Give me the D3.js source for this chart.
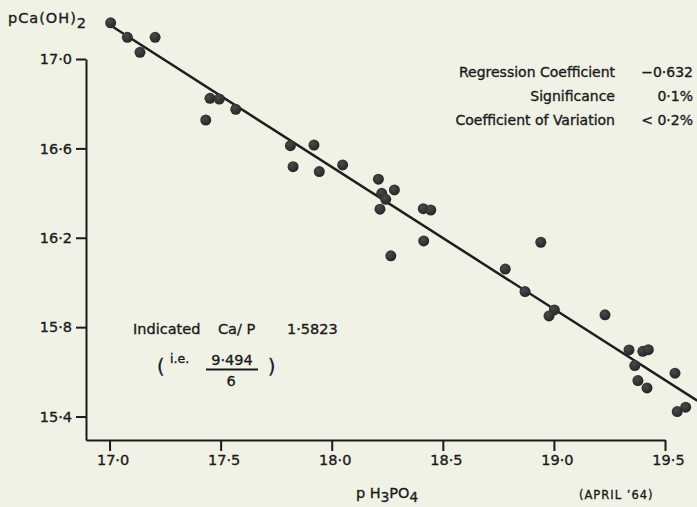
<!DOCTYPE html>
<html>
<head>
<meta charset="utf-8">
<script src="https://cdn.jsdelivr.net/npm/d3@7"></script>
<style>
  html, body { margin: 0; padding: 0; background: #f1f2e6; }
  svg { display: block; }
  text { font-family: "DejaVu Sans", sans-serif; fill: #1b1b1b; stroke: #1b1b1b; stroke-width: 0.35px; }
</style>
</head>
<body>
<svg id="chart" width="697" height="507"></svg>
<script>
// ---- data ----
const pH3PO4 = [17.005, 17.080, 17.205, 17.137, 17.452, 17.494, 17.568, 17.433,
  17.814, 17.920, 17.826, 17.944, 18.049, 18.210, 18.225, 18.282, 18.243, 18.217,
  18.412, 18.446, 18.414, 18.266, 18.941, 18.781, 18.870, 19.002, 18.978, 19.230,
  19.338, 19.400, 19.425, 19.364, 19.545, 19.378, 19.419, 19.555, 19.593];
const pCaOH2 = [17.162, 17.097, 17.097, 17.030, 16.824, 16.821, 16.775, 16.727,
  16.612, 16.615, 16.518, 16.496, 16.526, 16.462, 16.399, 16.414, 16.372, 16.328,
  16.330, 16.324, 16.186, 16.119, 16.180, 16.060, 15.959, 15.877, 15.850, 15.855,
  15.698, 15.692, 15.699, 15.628, 15.594, 15.561, 15.528, 15.422, 15.442];
const fitX = [17.016, 19.645];
const fitY = [17.143, 15.471];
const xTicks = [17.0, 17.5, 18.0, 18.5, 19.0, 19.5];
const yTicks = [15.4, 15.8, 16.2, 16.6, 17.0];
const statLabels = ["Regression Coefficient", "Significance", "Coefficient of Variation"];
const statValues = ["\u22120\u00B7632", "0\u00B71%", "< 0\u00B72%"];

// ---- scales ----
const svg = d3.select("#chart");
svg.append("rect").attr("width", 697).attr("height", 507).attr("fill", "#f1f2e6");

const x = d3.scaleLinear().domain([16.894, 19.5]).range([86, 665]);
const y = d3.scaleLinear().domain([15.295, 17.0]).range([440, 59]);
const fmt = v => d3.format(".1f")(v).replace(".", "\u00B7");
const FONT = "'DejaVu Sans', sans-serif";

// ---- axes ----
const xAxis = svg.append("g").attr("transform", "translate(0,440)")
  .call(d3.axisBottom(x).tickValues(xTicks).tickFormat(fmt).tickSize(11).tickSizeOuter(0).tickPadding(4));
const yAxis = svg.append("g").attr("transform", "translate(86,0)")
  .call(d3.axisLeft(y).tickValues(yTicks).tickFormat(fmt).tickSize(10).tickSizeOuter(0).tickPadding(4));
[xAxis, yAxis].forEach(g => {
  g.selectAll("path, line").attr("stroke", "#1b1b1b").attr("stroke-width", 2);
  g.selectAll("text").attr("font-size", 14.5).attr("fill", "#1b1b1b")
    .style("font-family", FONT);
});
xAxis.selectAll("text").attr("dx", 3);

// ---- regression line ----
svg.append("line")
  .attr("x1", x(fitX[0])).attr("y1", y(fitY[0]))
  .attr("x2", x(fitX[1])).attr("y2", y(fitY[1]))
  .attr("stroke", "#1e1e1e").attr("stroke-width", 2.5);

// ---- points ----
const defs = svg.append("defs");
const grad = defs.append("radialGradient").attr("id", "dot").attr("cx", "40%").attr("cy", "35%").attr("r", "65%");
grad.append("stop").attr("offset", "0%").attr("stop-color", "#4a4a4a");
grad.append("stop").attr("offset", "100%").attr("stop-color", "#262626");
svg.append("g").selectAll("circle").data(pH3PO4).join("circle")
  .attr("cx", d => x(d))
  .attr("cy", (d, i) => y(pCaOH2[i]))
  .attr("r", 5.5)
  .attr("fill", "url(#dot)");

// ---- axis titles ----
const yt = svg.append("text").attr("x", 8).attr("y", 23).attr("font-size", 14.5).attr("letter-spacing", 1);
yt.append("tspan").text("pCa(OH)");
yt.append("tspan").attr("dy", 5).text("2");

const xt = svg.append("text").attr("x", 356).attr("y", 498).attr("font-size", 14.5);
xt.append("tspan").text("p H");
xt.append("tspan").attr("dy", 4).attr("font-size", 13.5).text("3");
xt.append("tspan").attr("dy", -4).text("PO");
xt.append("tspan").attr("dy", 4).attr("font-size", 13.5).text("4");

svg.append("text").attr("x", 579).attr("y", 499).attr("font-size", 11.5)
  .attr("letter-spacing", 1).text("(APRIL  \u201964)");

// ---- statistics block ----
statLabels.forEach((s, i) => {
  svg.append("text").attr("x", 615).attr("y", 77 + i * 24).attr("font-size", 14)
    .attr("text-anchor", "end").text(s);
  svg.append("text").attr("x", 693).attr("y", 77 + i * 24).attr("font-size", 14)
    .attr("text-anchor", "end").text(statValues[i]);
});

// ---- Ca/P annotation ----
svg.append("text").attr("x", 133).attr("y", 334).attr("font-size", 14.5).text("Indicated");
svg.append("text").attr("x", 218).attr("y", 334).attr("font-size", 14.5).text("Ca/ P");
svg.append("text").attr("x", 287).attr("y", 334).attr("font-size", 14.5).text("1\u00B75823");
svg.append("text").attr("x", 157).attr("y", 373).attr("font-size", 19).text("(");
svg.append("text").attr("x", 170).attr("y", 363).attr("font-size", 12.5).text("i.e.");
svg.append("text").attr("x", 232).attr("y", 365).attr("font-size", 14.5).attr("text-anchor", "middle").text("9\u00B7494");
svg.append("line").attr("x1", 206).attr("x2", 258).attr("y1", 369.5).attr("y2", 369.5)
  .attr("stroke", "#1b1b1b").attr("stroke-width", 2);
svg.append("text").attr("x", 231).attr("y", 386).attr("font-size", 14.5).attr("text-anchor", "middle").text("6");
svg.append("text").attr("x", 268).attr("y", 373).attr("font-size", 19).text(")");
</script>
</body>
</html>
